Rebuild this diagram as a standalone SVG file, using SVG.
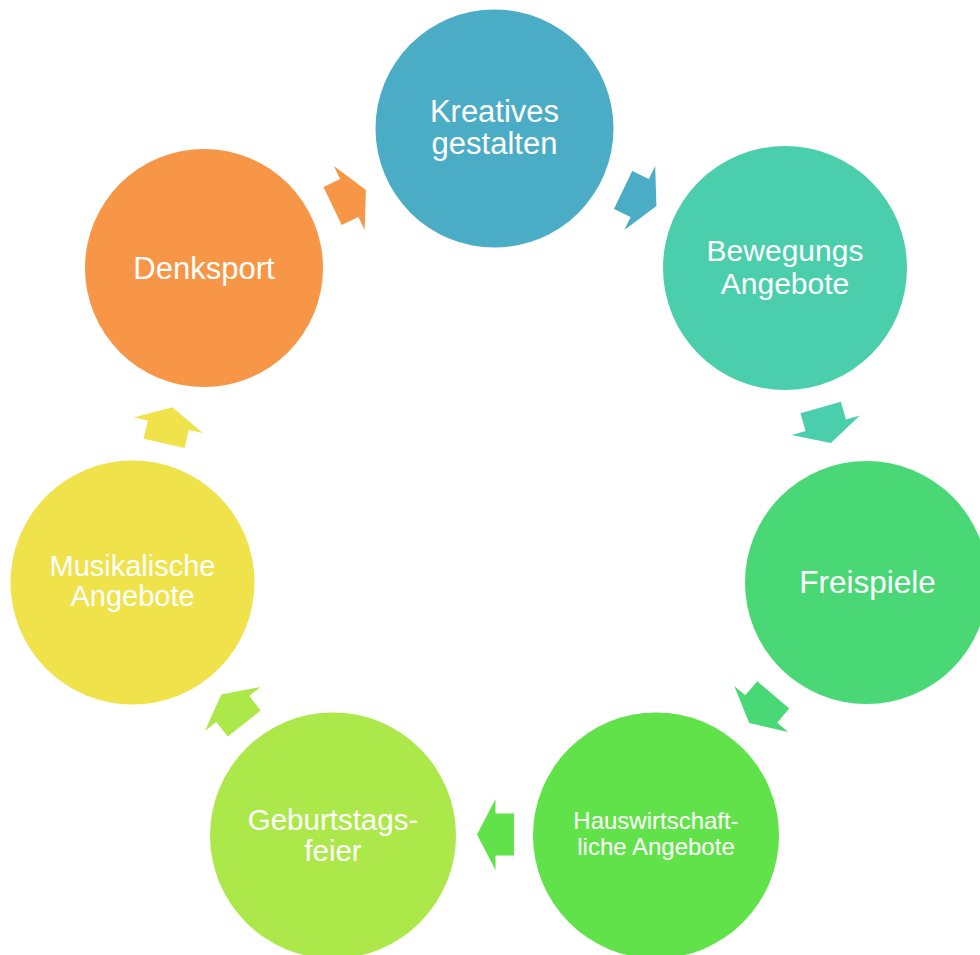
<svg xmlns="http://www.w3.org/2000/svg" width="980" height="955" viewBox="0 0 980 955">
<defs>
<style>
text{font-family:"Liberation Sans",Arial,sans-serif;fill:#ffffff;text-anchor:middle}
</style>
<path id="arr" d="M-18.5,-21 L0,-21 L0,-35.5 L18.5,0 L0,35.5 L0,21 L-18.5,21 Z"/>
</defs>
<rect width="980" height="955" fill="#ffffff"/>
<g id="connectors">
<use href="#arr" fill="#F79646" transform="translate(349.25,198) rotate(-25.73)"/>
<use href="#arr" fill="#4BACC6" transform="translate(639.75,198) rotate(25.73)"/>
<use href="#arr" fill="#4BCEAC" transform="translate(825.75,425.25) rotate(74)"/>
<use href="#arr" fill="#4AD876" transform="translate(761.25,709) rotate(130.5)"/>
<use href="#arr" fill="#62E24A" transform="translate(495.5,834.5) rotate(180)"/>
<use href="#arr" fill="#ACE84A" transform="translate(232.75,709) rotate(-128.4)"/>
<use href="#arr" fill="#F0E24A" transform="translate(168.25,425.25) rotate(-77.2)"/>
</g>
<g id="n1">
<circle cx="494.5" cy="128.5" r="119" fill="#4BACC6"/>
<text x="494.5" y="121.7" font-size="31">Kreatives</text>
<text x="494.5" y="154" font-size="31">gestalten</text>
</g>
<g id="n2">
<circle cx="785" cy="268" r="122" fill="#4BCEAC"/>
<text x="785" y="261" font-size="30">Bewegungs</text>
<text x="785" y="293.5" font-size="30">Angebote</text>
</g>
<g id="n3">
<circle cx="866.5" cy="582.5" r="121.5" fill="#4AD876"/>
<text x="867.5" y="593" font-size="31.5">Freispiele</text>
</g>
<g id="n4">
<circle cx="656" cy="835.5" r="123" fill="#62E24A"/>
<text x="656" y="829.3" font-size="24">Hauswirtschaft-</text>
<text x="656" y="855" font-size="24">liche Angebote</text>
</g>
<g id="n5">
<circle cx="333" cy="835.5" r="123" fill="#ACE84A"/>
<text x="333" y="830" font-size="29.5">Geburtstags-</text>
<text x="333" y="861" font-size="29.5">feier</text>
</g>
<g id="n6">
<circle cx="132.5" cy="582.5" r="122" fill="#F0E24A"/>
<text x="132.5" y="576" font-size="29">Musikalische</text>
<text x="132.5" y="606" font-size="29">Angebote</text>
</g>
<g id="n7">
<circle cx="204" cy="268" r="119" fill="#F79646"/>
<text x="204" y="279" font-size="31">Denksport</text>
</g>
</svg>
